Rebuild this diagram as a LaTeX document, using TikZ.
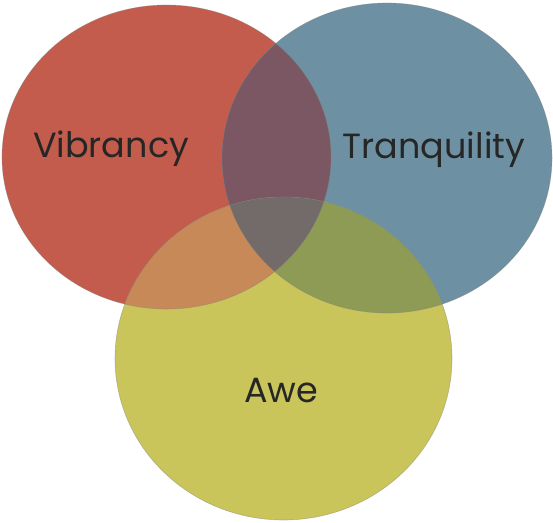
\documentclass[tikz,border=0pt]{standalone}
\usepackage{fontspec}
\setmainfont{Poppins}
\usetikzlibrary{positioning}
\definecolor{vibred}{HTML}{C45C4D}
\definecolor{tranblue}{HTML}{6D91A2}
\definecolor{aweyellow}{HTML}{C9C55A}
\definecolor{redblue}{HTML}{7A5762}
\definecolor{redyellow}{HTML}{C78958}
\definecolor{blueyellow}{HTML}{8E9B55}
\definecolor{allthree}{HTML}{736A6A}

\begin{document}
\begin{tikzpicture}[
  x=1pt,y=-1pt,
  rim/.style={draw=black!50,draw opacity=0.45,line width=0.6pt},
  word/.style={anchor=base,font=\fontsize{35}{40}\selectfont,text=black!85}
]
\useasboundingbox (0,0) rectangle (553,522);
\coordinate (vib) at (166.5,157);
\coordinate (tra) at (387,158);
\coordinate (awe) at (283.5,358.5);
% the three washes
\fill[vibred] (vib) ellipse [x radius=164.5,y radius=152];
\fill[tranblue] (tra) ellipse [x radius=165,y radius=155];
\fill[aweyellow] (awe) ellipse [x radius=168.5,y radius=161.5];
% overlaps
\begin{scope}
  \clip (vib) ellipse [x radius=164.5,y radius=152];
  \fill[redblue] (tra) ellipse [x radius=165,y radius=155];
  \fill[redyellow] (awe) ellipse [x radius=168.5,y radius=161.5];
\end{scope}
\begin{scope}
  \clip (tra) ellipse [x radius=165,y radius=155];
  \fill[blueyellow] (awe) ellipse [x radius=168.5,y radius=161.5];
  \clip (vib) ellipse [x radius=164.5,y radius=152];
  \fill[allthree] (awe) ellipse [x radius=168.5,y radius=161.5];
\end{scope}
% edges on top
\draw[rim] (vib) ellipse [x radius=164.5,y radius=152];
\draw[rim] (tra) ellipse [x radius=165,y radius=155];
\draw[rim] (awe) ellipse [x radius=168.5,y radius=161.5];
% labels
\node[word] (vibtxt) at (111,157) {Vibrancy};
\node[word] (tratxt) at (434,158) {Tranquility};
\node[word] (awetxt) at (281,402) {Awe};
\end{tikzpicture}
\end{document}
